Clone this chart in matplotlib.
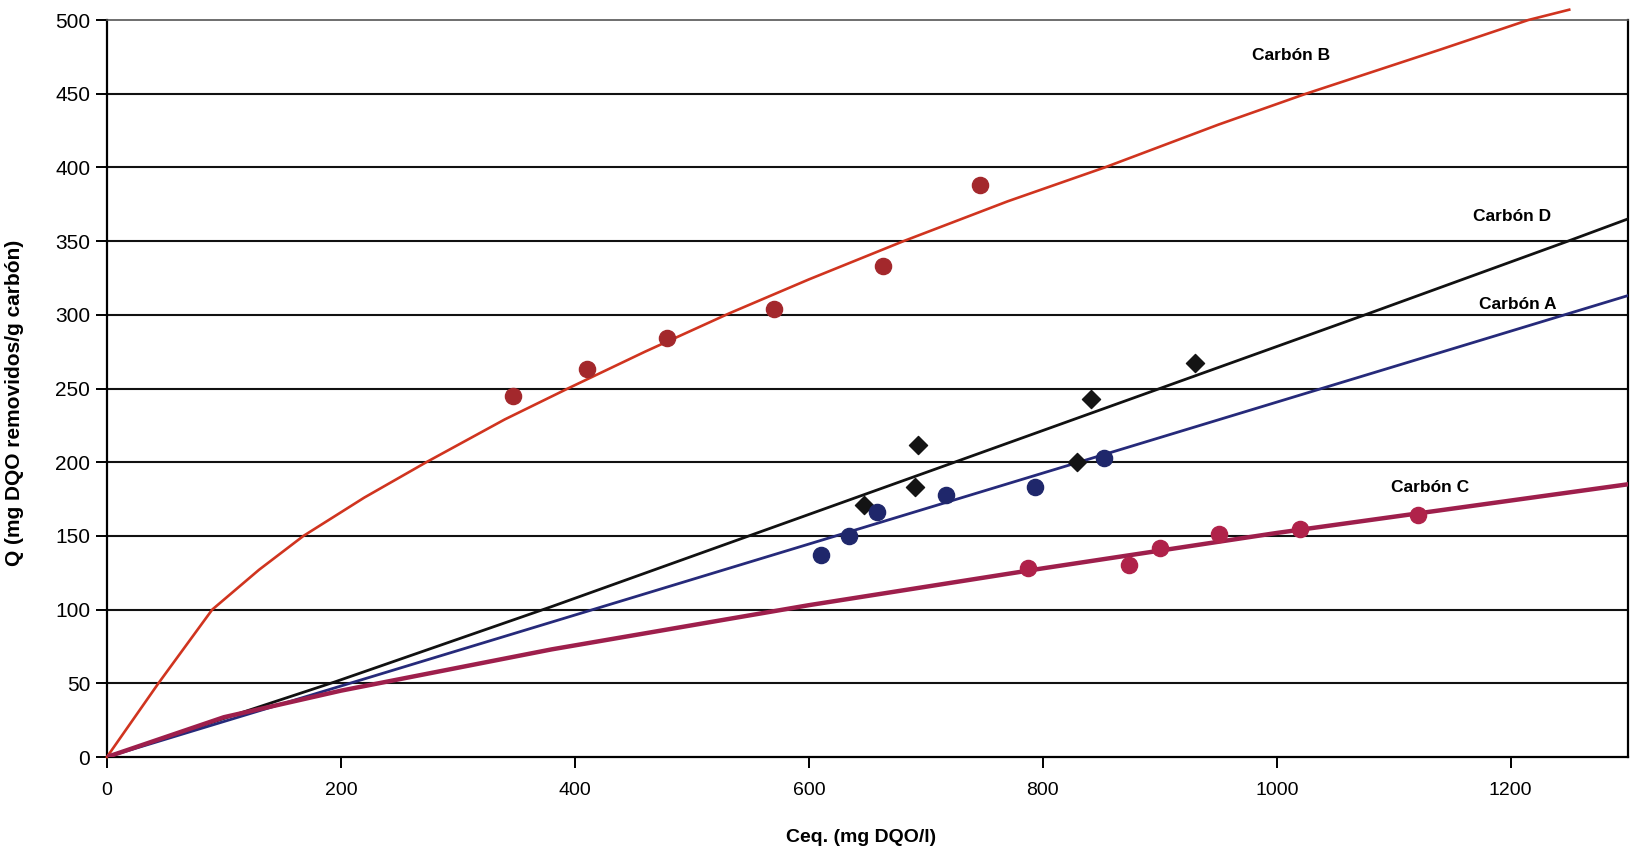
import matplotlib.pyplot as plt
import numpy as np

plt.rcParams['font.family'] = ['Liberation Sans', 'DejaVu Sans']

# Carbón B: puntos experimentales y curva de ajuste
b_x = [347, 410, 479, 570, 663, 746]
b_y = [245, 263, 284, 304, 333, 388]
b_curve_x = [0, 44, 90, 130, 168, 220, 273, 340, 394, 460, 532, 600, 681, 770, 853, 950, 1025, 1140, 1215, 1250]
b_curve_y = [0, 50, 100, 127, 150, 176, 200, 229, 250, 275, 301, 324, 350, 377, 400, 429, 450, 480, 500, 507]

# Carbón D
d_x = [647, 691, 693, 829, 841, 930]
d_y = [171, 183, 212, 200, 243, 267]
d_curve_x = [0, 195, 380, 700, 1079, 1249, 1300]
d_curve_y = [0, 51, 102, 193, 301, 350, 365]

# Carbón A
a_x = [610, 634, 658, 717, 793, 852]
a_y = [137, 150, 166, 178, 183, 203]
a_curve_x = [0, 1300]
a_curve_y = [0, 313]

# Carbón C
c_x = [787, 874, 900, 951, 1020, 1121]
c_y = [128, 130, 142, 151, 155, 164]
c_curve_x = [0, 100, 200, 380, 600, 800, 1000, 1300]
c_curve_y = [0, 27, 45, 73, 103, 128, 152, 185]


def main():
    fig = plt.figure(figsize=(16.3, 8.52), dpi=100)
    ax = fig.add_axes([0.0656, 0.1115, 0.933, 0.865])

    for y in range(50, 451, 50):
        ax.axhline(y, color='#111111', lw=1.5, zorder=1)

    # la curva del carbón B sobresale por encima del marco
    ax.plot(b_curve_x, b_curve_y, color='#d0341f', lw=1.9, zorder=3, clip_on=False)
    ax.plot(d_curve_x, d_curve_y, color='#111111', lw=2.0, zorder=3)
    ax.plot(a_curve_x, a_curve_y, color='#262a7a', lw=2.0, zorder=3)
    ax.plot(c_curve_x, c_curve_y, color='#9e1f4c', lw=3.2, zorder=3)

    ax.scatter(b_x, b_y, marker='o', s=135, color='#a3282c', zorder=4)
    ax.scatter(d_x, d_y, marker='D', s=85, color='#141414', zorder=4)
    ax.scatter(a_x, a_y, marker='o', s=135, color='#1f276b', zorder=4)
    ax.scatter(c_x, c_y, marker='o', s=135, color='#b0224a', zorder=4)

    lbl = dict(fontsize=12.5, fontweight='bold', ha='center', va='center')
    ax.text(1012, 476, 'Carbón B', **lbl)
    ax.text(1201, 367, 'Carbón D', **lbl)
    ax.text(1206, 307, 'Carbón A', **lbl)
    ax.text(1131, 183, 'Carbón C', **lbl)

    ax.set_xlim(0, 1300)
    ax.set_ylim(0, 500)
    ax.set_xticks(range(0, 1201, 200))
    ax.set_yticks(range(0, 501, 50))
    ax.tick_params(axis='y', labelsize=15, length=8, width=1.4, direction='out', pad=4)
    ax.tick_params(axis='x', labelsize=14, length=8, width=1.4, direction='out', pad=10)

    for s in ['left', 'bottom', 'right']:
        ax.spines[s].set_color('black')
        ax.spines[s].set_linewidth(1.6)
    ax.spines['top'].set_color('#555555')
    ax.spines['top'].set_linewidth(1.2)

    ax.set_xlabel('Ceq. (mg DQO/l)', fontsize=14, fontweight='bold')
    ax.set_ylabel('Q (mg DQO removidos/g carbón)', fontsize=15, fontweight='bold',
                  va='center')
    ax.xaxis.set_label_coords(0.496, -0.098)
    ax.yaxis.set_label_coords(-0.061, 0.48)

    plt.savefig('out.png', dpi=100)


if __name__ == '__main__':
    main()
